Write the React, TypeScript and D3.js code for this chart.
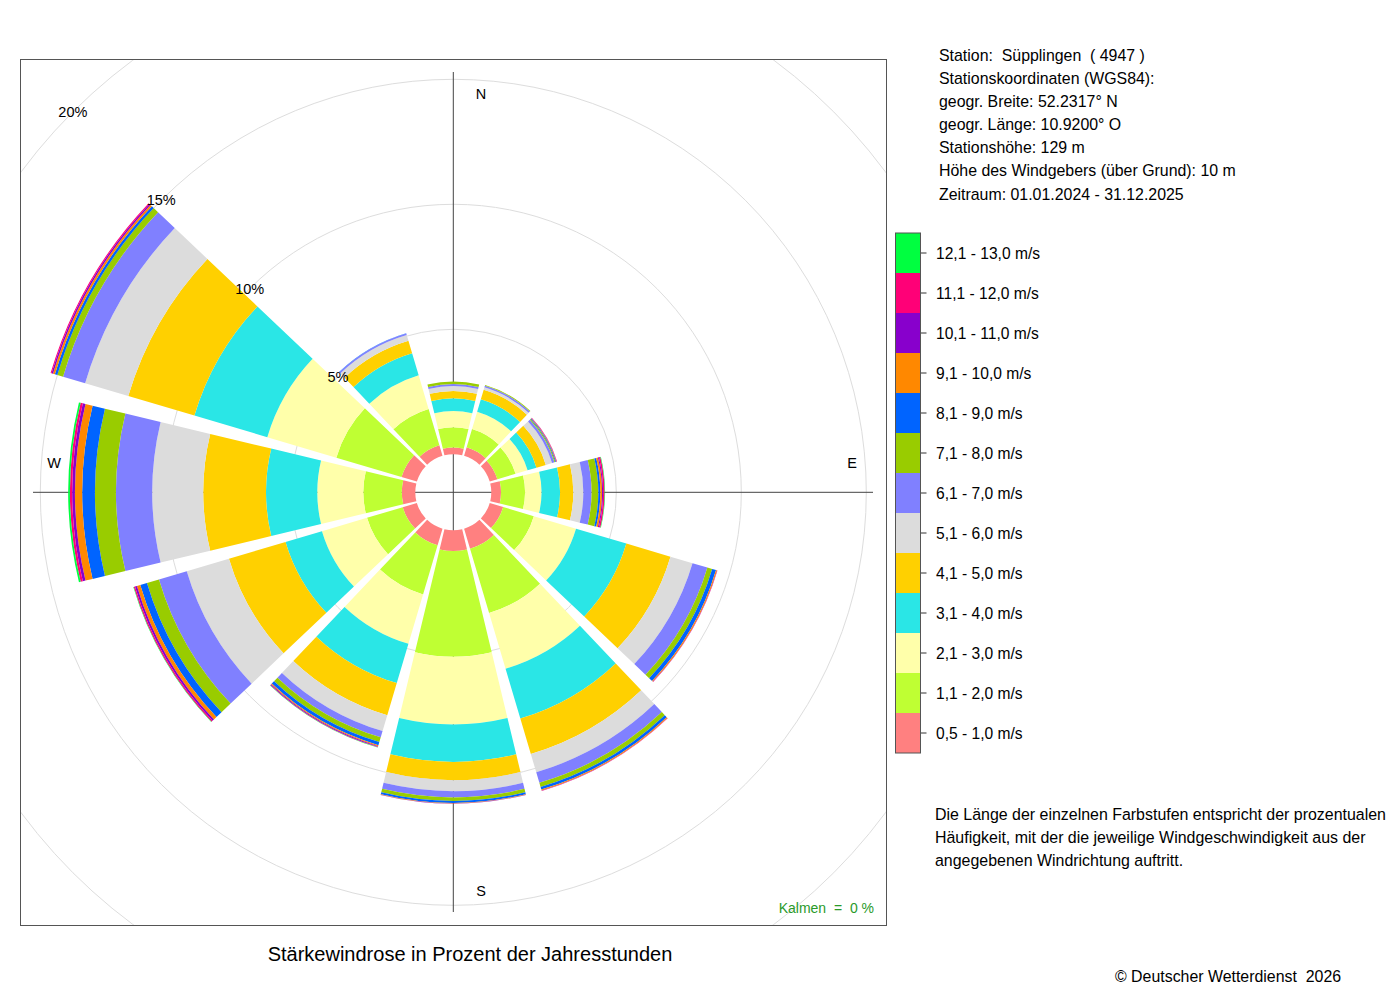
import React from 'react';
import * as d3 from 'd3';

// ---- data ----
const directions = [0, 30, 60, 90, 120, 150, 180, 210, 240, 270, 300, 330];
const cardinalLabels = ['N', 'E', 'S', 'W'];

const speedClasses = [
  '0,5 - 1,0 m/s', '1,1 - 2,0 m/s', '2,1 - 3,0 m/s', '3,1 - 4,0 m/s',
  '4,1 - 5,0 m/s', '5,1 - 6,0 m/s', '6,1 - 7,0 m/s', '7,1 - 8,0 m/s',
  '8,1 - 9,0 m/s', '9,1 - 10,0 m/s', '10,1 - 11,0 m/s', '11,1 - 12,0 m/s',
  '12,1 - 13,0 m/s',
];
const classColors = [
  '#ff8080', '#bfff33', '#ffffaa', '#2ae6e6', '#ffd000', '#dcdcdc', '#8080ff',
  '#99cc00', '#0064ff', '#ff8800', '#8800cc', '#ff0077', '#00ff40',
];

// percentage of hours per speed class (0,5-1 ... 12,1-13), per direction
const freqN   = [0.27, 0.81, 0.65, 0.51, 0.29, 0.20, 0.08, 0.10, 0, 0, 0, 0, 0];
const freqNNE = [0.36, 0.76, 0.72, 0.52, 0.40, 0.10, 0.07, 0.03, 0, 0, 0, 0, 0];
const freqENE = [0.32, 0.76, 0.50, 0.37, 0.39, 0.26, 0.10, 0.04, 0.03, 0.02, 0.01, 0.01, 0];
const freqE   = [0.39, 0.96, 0.66, 0.74, 0.53, 0.40, 0.33, 0.27, 0.08, 0.07, 0.04, 0.06, 0.02];
const freqESE = [0.56, 1.28, 1.76, 2.10, 1.84, 0.92, 0.62, 0.20, 0.16, 0.04, 0.01, 0.01, 0];
const freqSSE = [0.84, 2.68, 2.32, 2.08, 1.48, 0.76, 0.44, 0.17, 0.11, 0.04, 0.01, 0.01, 0];
const freqS   = [0.83, 4.23, 2.70, 1.50, 0.73, 0.44, 0.25, 0.14, 0.08, 0.02, 0.01, 0, 0];
const freqSSW = [0.69, 2.05, 2.06, 1.64, 1.34, 0.66, 0.26, 0.20, 0.13, 0.04, 0.03, 0.02, 0.01];
const freqWSW = [0.59, 1.49, 1.88, 1.52, 2.36, 1.76, 1.16, 0.50, 0.28, 0.14, 0.08, 0.05, 0.02];
const freqW   = [0.54, 1.54, 1.84, 2.05, 2.51, 2.04, 1.45, 0.84, 0.51, 0.29, 0.11, 0.09, 0.07];
const freqWNW = [0.64, 2.72, 2.88, 3.04, 2.76, 1.80, 0.92, 0.24, 0.10, 0.08, 0.06, 0.04, 0];
const freqNNW = [0.44, 1.52, 1.40, 0.92, 0.52, 0.24, 0.06, 0, 0.02, 0, 0, 0, 0];

const ringValues = [5, 10, 15, 20];
const ringLabels = ['5%', '10%', '15%', '20%'];

const stationLines = [
  'Station:  Süpplingen  ( 4947 )',
  'Stationskoordinaten (WGS84):',
  'geogr. Breite: 52.2317° N',
  'geogr. Länge: 10.9200° O',
  'Stationshöhe: 129 m',
  'Höhe des Windgebers (über Grund): 10 m',
  'Zeitraum: 01.01.2024 - 31.12.2025',
];
const noteLines = [
  'Die Länge der einzelnen Farbstufen entspricht der prozentualen',
  'Häufigkeit, mit der die jeweilige Windgeschwindigkeit aus der',
  'angegebenen Windrichtung auftritt.',
];
const titleText = 'Stärkewindrose in Prozent der Jahresstunden';
const calmText = 'Kalmen  =  0 %';
const copyrightText = '© Deutscher Wetterdienst  2026';

const freqTable = [freqN, freqNNE, freqENE, freqE, freqESE, freqSSE, freqS, freqSSW, freqWSW, freqW, freqWNW, freqNNW];

// ---- layout ----
const FONT = '"Liberation Sans", Arial, Helvetica, sans-serif';
const cx = 453.3;
const cy = 492.3;
const frame = { x: 20, y: 59, w: 866, h: 866 };
const halfWidthDeg = 13.5;

export default function App() {
  const r = d3.scaleLinear().domain([0, 20]).range([38, 538]);
  const arc = d3.arc<any>();
  const toRad = (d: number) => (d * Math.PI) / 180;

  const sectors: any[] = [];
  directions.forEach((dir, i) => {
    let cum = 0;
    freqTable[i].forEach((v, j) => {
      if (v > 0) {
        const path = arc({
          innerRadius: r(cum),
          outerRadius: r(cum + v),
          startAngle: toRad(dir - halfWidthDeg),
          endAngle: toRad(dir + halfWidthDeg),
        });
        sectors.push(<path key={`${i}-${j}`} d={path || ''} fill={classColors[j]} />);
      }
      cum += v;
    });
  });

  const legendY = d3
    .scaleBand<string>()
    .domain(speedClasses.slice().reverse())
    .range([233, 753])
    .padding(0);
  const lx = 895.5;
  const lw = 25;

  const polarPos = (ang: number, dist: number) => ({
    x: cx + dist * Math.sin(toRad(ang)),
    y: cy - dist * Math.cos(toRad(ang)),
  });

  const cardinalXY = [
    { x: 481, y: 94 },
    { x: 852, y: 463 },
    { x: 481, y: 891 },
    { x: 54, y: 463 },
  ];

  return (
    <div style={{ position: 'absolute', left: 0, top: 0 }}>
      <svg width={1400} height={1000} style={{ display: 'block', fontFamily: FONT }}>
        <rect x={0} y={0} width={1400} height={1000} fill="#fff" />
        <defs>
          <clipPath id="plotclip">
            <rect x={frame.x} y={frame.y} width={frame.w} height={frame.h} />
          </clipPath>
        </defs>
        <g clipPath="url(#plotclip)">
          {ringValues.map((v) => (
            <circle key={v} cx={cx} cy={cy} r={r(v)} fill="none" stroke="#dddddd" strokeWidth={1} />
          ))}
        </g>
        {/* axes */}
        <line x1={cx} x2={cx} y1={72} y2={912} stroke="#444" strokeWidth={1} />
        <line x1={33} x2={873} y1={cy} y2={cy} stroke="#444" strokeWidth={1} />
        <g transform={`translate(${cx},${cy})`}>{sectors}</g>
        {/* ring labels */}
        {ringValues.map((v, i) => {
          const p = polarPos(315, r(v));
          return (
            <text key={v} x={p.x} y={p.y} textAnchor="middle" dominantBaseline="central" fontSize={14.5} fill="#000">
              {ringLabels[i]}
            </text>
          );
        })}
        {/* cardinal labels */}
        {cardinalLabels.map((lab, i) => (
          <text key={lab} x={cardinalXY[i].x} y={cardinalXY[i].y} textAnchor="middle" dominantBaseline="central" fontSize={14.5} fill="#000">
            {lab}
          </text>
        ))}
        <rect x={frame.x + 0.5} y={frame.y + 0.5} width={frame.w} height={frame.h} fill="none" stroke="#555" strokeWidth={1} />
        <text x={874} y={908} textAnchor="end" dominantBaseline="central" fontSize={14} fill="#2a9a2a" style={{ whiteSpace: 'pre' }}>
          {calmText}
        </text>
        <text x={470} y={954} textAnchor="middle" dominantBaseline="central" fontSize={20} fill="#000">
          {titleText}
        </text>
        {/* station info */}
        {stationLines.map((t, i) => (
          <text key={i} x={939} y={55 + i * 23.17} dominantBaseline="central" fontSize={15.9} fill="#000" style={{ whiteSpace: 'pre' }}>
            {t}
          </text>
        ))}
        {/* legend */}
        {speedClasses.map((c, j) => {
          const y0 = legendY(c) as number;
          const bh = legendY.bandwidth();
          return (
            <g key={c}>
              <rect x={lx} y={y0} width={lw} height={bh} fill={classColors[j]} />
              <line x1={lx + lw} x2={lx + lw + 6} y1={y0 + bh / 2} y2={y0 + bh / 2} stroke="#333" strokeWidth={1} />
              <text x={936} y={y0 + bh / 2} dominantBaseline="central" fontSize={15.6} fill="#000">
                {c}
              </text>
            </g>
          );
        })}
        <rect x={lx} y={233} width={lw} height={520} fill="none" stroke="#555" strokeWidth={1} />
        {noteLines.map((t, i) => (
          <text key={i} x={935} y={814 + i * 23} dominantBaseline="central" fontSize={15.95} fill="#000">
            {t}
          </text>
        ))}
        <text x={1115} y={976} dominantBaseline="central" fontSize={15.9} fill="#000" style={{ whiteSpace: 'pre' }}>
          {copyrightText}
        </text>
      </svg>
    </div>
  );
}
